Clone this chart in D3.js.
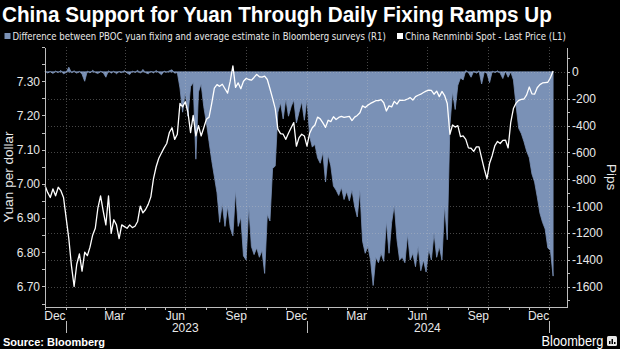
<!DOCTYPE html>
<html>
<head>
<meta charset="utf-8">
<script src="https://cdn.jsdelivr.net/npm/d3@7"></script>
<style>
  body { margin: 0; background: #000; }
  svg { display: block; background: #000; font-family: "Liberation Sans", Arial, sans-serif; }
  .axis path, .axis line { stroke: #bdbdbd; shape-rendering: crispEdges; }
  .axis text { fill: #e8e8e8; font-size: 12px; font-family: "Liberation Sans", Arial, sans-serif; }
</style>
</head>
<body>
<svg width="620" height="349"></svg>
<script>
// one value every 4 days from startDate
var startDate = "2022-12-01";
var stepDays = 4;

// China Renminbi Spot - Last Price (L1)
var spotValues = [
  6.995, 6.975, 6.96, 6.985, 6.965, 6.99, 6.98, 6.96, 6.90, 6.84,
  6.76, 6.70, 6.765, 6.795, 6.745, 6.80, 6.79, 6.815, 6.85, 6.87,
  6.93, 6.965, 6.92, 6.88, 6.965, 6.855, 6.895, 6.88, 6.84, 6.88,
  6.875, 6.87, 6.88, 6.872, 6.876, 6.89, 6.935, 6.915, 6.925, 6.94,
  6.962, 7.015, 7.05, 7.075, 7.09, 7.105, 7.118, 7.15, 7.164, 7.13,
  7.145, 7.235, 7.225, 7.24, 7.21, 7.15, 7.2, 7.14, 7.17, 7.14,
  7.164, 7.189, 7.195, 7.235, 7.28, 7.29, 7.285, 7.291, 7.278, 7.265,
  7.30, 7.345, 7.282, 7.295, 7.278, 7.30, 7.308, 7.305, 7.303, 7.311,
  7.32, 7.313, 7.312, 7.315, 7.305, 7.278, 7.25, 7.22, 7.16, 7.147,
  7.145, 7.13, 7.148, 7.164, 7.179, 7.11, 7.135, 7.145, 7.14, 7.11,
  7.148, 7.164, 7.172, 7.195, 7.19, 7.178, 7.165, 7.186, 7.182, 7.196,
  7.188, 7.194, 7.197, 7.194, 7.196, 7.197, 7.185, 7.195, 7.2, 7.208,
  7.228, 7.223, 7.23, 7.235, 7.239, 7.243, 7.243, 7.246, 7.237, 7.213,
  7.228, 7.225, 7.241, 7.233, 7.245, 7.244, 7.245, 7.248, 7.252, 7.245,
  7.255, 7.259, 7.262, 7.267, 7.271, 7.274, 7.273, 7.262, 7.271, 7.255,
  7.27, 7.258, 7.235, 7.145, 7.172, 7.166, 7.17, 7.138, 7.14, 7.13,
  7.105, 7.104, 7.095, 7.108, 7.108, 7.075, 7.043, 7.015, 7.06, 7.083,
  7.112, 7.124, 7.118, 7.127, 7.128, 7.105, 7.18, 7.22, 7.236, 7.244,
  7.247, 7.248, 7.26, 7.283, 7.263, 7.262, 7.281, 7.29, 7.295, 7.296,
  7.297, 7.31, 7.33
];

// Difference between PBOC fixing and survey estimate, pips (R1)
var spreadValues = [
  5, -8, 3, -12, 6, -5, 10, -15, -4, 35,
  -6, 8, -10, 4, -18, -70, 6, -8, 12, -5,
  -12, 4, -6, -40, 8, -10, 5, -14, 3, -6,
  10, -8, -20, 6, -4, 12, -10, 18, -6, -15,
  4, -8, 10, -5, -22, 6, -3, 8, 15, -10,
  -5, -120, -300, -150, -330, -110, -80, -650, -150, -90,
  -260, -380, -520, -660, -780, -900, -1120, -980, -1150, -1000,
  -1160, -1220, -880, -1150, -1080, -1370, -1400, -1000, -1300, -1360,
  -1310, -1380, -1330, -1500, -1060, -1110, -720, -700, -300, -230,
  -350, -200, -330, -260, -210, -380, -300, -220, -360, -200,
  -480, -560, -540, -640, -680, -600, -820, -620, -700, -850,
  -880, -920, -860, -950, -890, -960, -880, -1000, -1080, -880,
  -1260, -1350, -1300, -1400, -1590, -1380, -1420, -1350, -1410, -1110,
  -1350, -1120, -990, -1250, -1400, -1380, -1420, -1210, -1400, -1350,
  -1450, -1300, -1480, -1400, -1490, -1320, -1400, -1200, -1380, -1300,
  -1400, -990, -1250, -400, -150, -280, -100, -45, -60, 10,
  -5, -40, 5, -10, 8, -90, 0, -10, -80, 5,
  -5, 8, -10, -50, 5, -40, 0, -60, -250, -420,
  -460, -520, -590, -640, -760, -820, -930, -1050, -1120, -1170,
  -1310, -1330, -1520
];

var leftTicks = [6.70, 6.80, 6.90, 7.00, 7.10, 7.20, 7.30];
var rightTicks = [0, -200, -400, -600, -800, -1000, -1200, -1400, -1600];
var monthLabels = ["2022-12", "2023-03", "2023-06", "2023-09", "2023-12", "2024-03", "2024-06", "2024-09", "2024-12"];
var yearLabels = ["2023", "2024"];

var titleText = "China Support for Yuan Through Daily Fixing Ramps Up";
var legendSpread = "Difference between PBOC yuan fixing and average estimate in Bloomberg surveys (R1)";
var legendSpot = "China Renminbi Spot - Last Price (L1)";

var blue = "#7a91b6";
var svg = d3.select("svg");

var margin = {left: 45, right: 567, top: 47, bottom: 307};

var parseDay = d3.timeParse("%Y-%m-%d");
var parseMonth = d3.timeParse("%Y-%m");
var t0 = parseDay(startDate);
var dates = spotValues.map(function(d, i) { return d3.timeDay.offset(t0, i * stepDays); });

var x = d3.scaleTime()
	.domain([parseDay("2022-12-01"), parseDay("2025-01-28")])
	.range([margin.left, margin.right]);
var yL = d3.scaleLinear().domain([6.64, 7.40]).range([margin.bottom, margin.top]);
var yR = d3.scaleLinear().domain([-1750, 185]).range([margin.bottom, margin.top]);

// squeeze a text horizontally so it fits a given width
function fitText(sel, x0, y0, width) {
	var len = sel.node().getComputedTextLength();
	var k = len > width ? width / len : 1;
	sel.attr("transform", "translate(" + x0 + "," + y0 + ") scale(" + k + ",1)");
}

// title + legend
var title = svg.append("text")
	.attr("fill", "#fff")
	.style("font-size", "22px").style("font-weight", "bold")
	.text(titleText);
fitText(title, 2, 22, 550);

var legendFont = "'Liberation Sans Narrow', 'DejaVu Sans Condensed', sans-serif";
svg.append("rect").attr("x", 4.5).attr("y", 33).attr("width", 6).attr("height", 6).attr("fill", blue);
var leg1 = svg.append("text")
	.attr("fill", "#e8e8e8")
	.style("font-size", "11px").style("font-family", legendFont)
	.text(legendSpread);
fitText(leg1, 12.5, 40, 374);
svg.append("rect").attr("x", 397).attr("y", 33).attr("width", 6).attr("height", 6).attr("fill", "#fff");
var leg2 = svg.append("text")
	.attr("fill", "#e8e8e8")
	.style("font-size", "11px").style("font-family", legendFont)
	.text(legendSpot);
fitText(leg2, 405, 40, 161);

// spread area
var area = d3.area()
	.x(function(d, i) { return x(dates[i]); })
	.y0(yR(0))
	.y1(function(d) { return yR(d); });

svg.append("path")
	.datum(spreadValues)
	.attr("d", area)
	.attr("fill", blue)
	.attr("stroke", blue)
	.attr("stroke-width", 0.8);

// grid
var grid = svg.append("g").attr("class", "grid");
grid.selectAll(".hgrid").data(rightTicks).enter().append("line")
	.attr("x1", margin.left).attr("x2", margin.right)
	.attr("y1", function(d) { return Math.round(yR(d)) + 0.5; })
	.attr("y2", function(d) { return Math.round(yR(d)) + 0.5; })
	.attr("stroke", "rgba(200,200,200,0.35)")
	.attr("stroke-dasharray", "1,2");

var quarters = d3.timeMonth.range(parseDay("2023-01-01"), parseDay("2025-01-02"), 3);
grid.selectAll(".vgrid").data(quarters).enter().append("line")
	.attr("x1", function(d) { return Math.round(x(d)) + 0.5; })
	.attr("x2", function(d) { return Math.round(x(d)) + 0.5; })
	.attr("y1", margin.top).attr("y2", margin.bottom)
	.attr("stroke", "rgba(200,200,200,0.35)")
	.attr("stroke-dasharray", "1,2");

// spot line
var line = d3.line()
	.x(function(d, i) { return x(dates[i]); })
	.y(function(d) { return yL(d); });

svg.append("path")
	.datum(spotValues)
	.attr("d", line)
	.attr("fill", "none")
	.attr("stroke", "#fff")
	.attr("stroke-width", 1.3)
	.attr("stroke-linejoin", "round");

// left axis
var leftMinor = d3.range(6.65, 7.401, 0.05);
svg.append("g")
	.attr("class", "axis")
	.attr("transform", "translate(" + margin.left + ",0)")
	.call(d3.axisLeft(yL).tickValues(leftMinor).tickSize(3).tickSizeOuter(0).tickFormat(""));
svg.append("g")
	.attr("class", "axis")
	.attr("transform", "translate(" + margin.left + ",0)")
	.call(d3.axisLeft(yL).tickValues(leftTicks).tickSize(3).tickSizeOuter(0).tickPadding(2).tickFormat(d3.format(".2f")))
	.select(".domain").remove();

// right axis
var rightMinor = d3.range(-1700, 101, 100);
svg.append("g")
	.attr("class", "axis")
	.attr("transform", "translate(" + margin.right + ",0)")
	.call(d3.axisRight(yR).tickValues(rightMinor).tickSize(3).tickSizeOuter(0).tickFormat(""));
svg.append("g")
	.attr("class", "axis")
	.attr("transform", "translate(" + margin.right + ",0)")
	.call(d3.axisRight(yR).tickValues(rightTicks).tickSize(3).tickSizeOuter(0).tickPadding(2).tickFormat(function(d) { return String(d); }))
	.select(".domain").remove();

// bottom axis: month ticks, quarterly labels at mid-month
var months = d3.timeMonth.range(parseDay("2022-12-01"), parseDay("2025-01-02"));
svg.append("g")
	.attr("class", "axis")
	.attr("transform", "translate(0," + margin.bottom + ")")
	.call(d3.axisBottom(x).tickValues(months).tickSize(3).tickSizeOuter(0).tickFormat(""));

var fmtMonth = d3.timeFormat("%b");
svg.append("g").selectAll("text").data(monthLabels).enter().append("text")
	.attr("x", function(d) { return x(d3.timeDay.offset(parseMonth(d), 15)); })
	.attr("y", 320)
	.attr("text-anchor", "middle")
	.attr("fill", "#e8e8e8")
	.style("font-size", "12px")
	.text(function(d) { return fmtMonth(parseMonth(d)); });

var yearStarts = d3.timeYear.range(parseDay("2023-01-01"), parseDay("2025-01-02"));
svg.append("g").selectAll("line").data(yearStarts).enter().append("line")
	.attr("x1", function(d) { return Math.round(x(d)) + 0.5; })
	.attr("x2", function(d) { return Math.round(x(d)) + 0.5; })
	.attr("y1", 321).attr("y2", 333)
	.attr("stroke", "#bdbdbd");

svg.append("g").selectAll("text").data(yearLabels).enter().append("text")
	.attr("x", function(d) { return x(parseDay(d + "-07-01")); })
	.attr("y", 332)
	.attr("text-anchor", "middle")
	.attr("fill", "#e8e8e8")
	.style("font-size", "12px")
	.text(function(d) { return d; });

// axis titles
svg.append("text")
	.attr("transform", "translate(13,177) rotate(-90)")
	.attr("text-anchor", "middle")
	.attr("fill", "#e8e8e8")
	.style("font-size", "13.5px")
	.text("Yuan per dollar");
svg.append("text")
	.attr("transform", "translate(607,177) rotate(90)")
	.attr("text-anchor", "middle")
	.attr("fill", "#e8e8e8")
	.style("font-size", "13.5px")
	.text("Pips");

// footer
svg.append("text")
	.attr("x", 3).attr("y", 346)
	.attr("fill", "#fff")
	.style("font-size", "11px").style("font-weight", "bold")
	.text("Source: Bloomberg");
var brand = svg.append("text")
	.attr("fill", "#fff")
	.style("font-size", "14px")
	.text("Bloomberg");
fitText(brand, 541.5, 346, 62);
var logo = svg.append("g").attr("transform", "translate(607,336)");
logo.append("rect").attr("width", 10).attr("height", 10).attr("rx", 1.5).attr("fill", "#e8e8e8");
logo.append("rect").attr("x", 2).attr("y", 5).attr("width", 1.5).attr("height", 3).attr("fill", "#000");
logo.append("rect").attr("x", 4.5).attr("y", 3).attr("width", 1.5).attr("height", 5).attr("fill", "#000");
logo.append("rect").attr("x", 7).attr("y", 6).attr("width", 1.5).attr("height", 2).attr("fill", "#000");
</script>
</body>
</html>
